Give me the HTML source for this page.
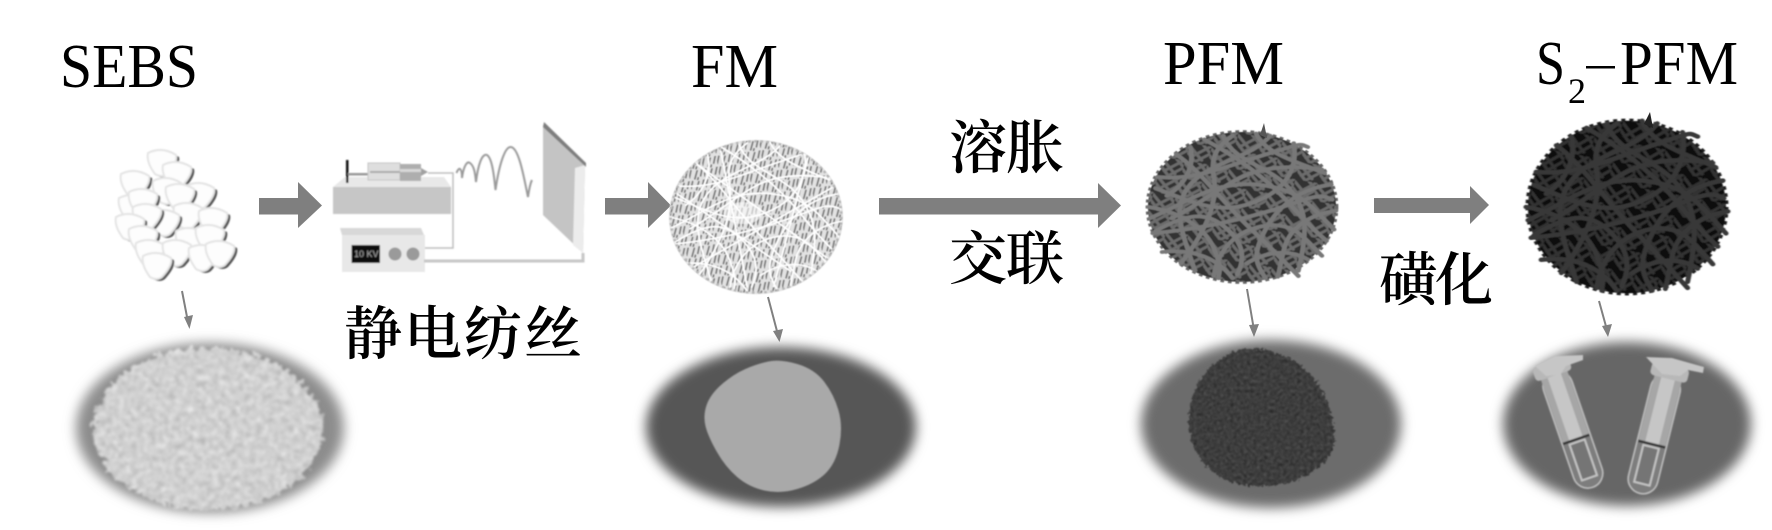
<!DOCTYPE html>
<html><head><meta charset="utf-8"><style>
html,body{margin:0;padding:0;background:#fff}
svg{display:block}
.l{font-family:"Liberation Serif",serif;fill:#000}
.c{font-family:"Liberation Serif","Noto Serif CJK SC",serif;font-size:58px;font-weight:600;fill:#000}
</style></head><body>
<svg width="1772" height="530" viewBox="0 0 1772 530" xmlns="http://www.w3.org/2000/svg">
<defs>
<filter id="b1" x="-5%" y="-5%" width="110%" height="110%"><feGaussianBlur stdDeviation="0.7"/></filter>
<filter id="b6" x="-15%" y="-15%" width="130%" height="130%"><feGaussianBlur stdDeviation="6"/></filter>
<filter id="powder" x="-10%" y="-10%" width="120%" height="120%" color-interpolation-filters="sRGB">
<feTurbulence type="fractalNoise" baseFrequency="0.16" numOctaves="3" seed="4" result="t"/>
<feDisplacementMap in="SourceGraphic" in2="t" scale="16" xChannelSelector="R" yChannelSelector="G" result="d"/>
<feColorMatrix in="t" type="matrix" values="0.4 0.4 0.2 0 0 0.4 0.4 0.2 0 0 0.4 0.4 0.2 0 0 0 0 0 0 1" result="g"/>
<feComposite in="d" in2="g" operator="arithmetic" k1="0" k2="1" k3="0.38" k4="-0.19" result="m"/>
<feComposite in="m" in2="d" operator="in" result="n"/>
<feGaussianBlur in="n" stdDeviation="1.3"/>
</filter>
<filter id="soft2" x="-15%" y="-15%" width="130%" height="130%" color-interpolation-filters="sRGB">
<feTurbulence type="fractalNoise" baseFrequency="0.7" numOctaves="2" seed="9" result="t"/>
<feColorMatrix in="t" type="matrix" values="0.4 0.4 0.2 0 0 0.4 0.4 0.2 0 0 0.4 0.4 0.2 0 0 0 0 0 0 1" result="g"/>
<feComposite in="SourceGraphic" in2="g" operator="arithmetic" k1="0" k2="1" k3="0.16" k4="-0.08" result="m"/>
<feComposite in="m" in2="SourceAlpha" operator="in" result="n"/>
<feGaussianBlur in="n" stdDeviation="6"/>
</filter>
<filter id="grain" x="-5%" y="-5%" width="110%" height="110%" color-interpolation-filters="sRGB">
<feTurbulence type="fractalNoise" baseFrequency="0.3" numOctaves="3" seed="2" result="t"/>
<feDisplacementMap in="SourceGraphic" in2="t" scale="7" xChannelSelector="R" yChannelSelector="G" result="d"/>
<feColorMatrix in="t" type="matrix" values="0.4 0.4 0.2 0 0 0.4 0.4 0.2 0 0 0.4 0.4 0.2 0 0 0 0 0 0 1" result="g"/>
<feComposite in="d" in2="g" operator="arithmetic" k1="0" k2="1" k3="0.3" k4="-0.15" result="m"/>
<feComposite in="m" in2="d" operator="in" result="n"/>
<feGaussianBlur in="n" stdDeviation="0.8"/>
</filter>
<pattern id="pd" width="24" height="24" patternUnits="userSpaceOnUse" patternTransform="rotate(12)">
<path d="M0,3L17,20M22,1L5,18M10,24L24,10M0,12L10,23M15,0L24,9" stroke="#303030" stroke-width="3.600" fill="none" stroke-linecap="round"/>
</pattern>
<pattern id="pm" width="24" height="24" patternUnits="userSpaceOnUse" patternTransform="rotate(12)">
<path d="M0,3L17,20M22,1L5,18M10,24L24,10M0,12L10,23M15,0L24,9" stroke="#6c6c6c" stroke-width="3.600" fill="none" stroke-linecap="round"/>
</pattern>
<pattern id="pf" width="17" height="14" patternUnits="userSpaceOnUse" patternTransform="rotate(-8)">
<path d="M3,1L0,10M10,2L6,12M16,0L13,9M9,14L10,11" stroke="#7c7c7c" stroke-width="2" fill="none" stroke-linecap="round"/>
</pattern>
<g id="fib" fill="none" stroke="currentColor" stroke-linecap="round">
<path d="M-98,15C-60,-5-30,-35 15,-30S70,-5 98,30"/>
<path d="M-95,35C-50,30-10,20 30,5S80,-20 96,-10"/>
<path d="M-70,-70C-45,-50-20,-5 10,30S50,80 60,92"/>
<path d="M-20,-95C-10,-60 30,-55 50,-25S70,30 60,85"/>
<path d="M30,-95C10,-65-35,-60-55,-30S-65,30-50,85"/>
<path d="M-90,-40C-50,-35-15,-55 25,-70S60,-85 70,-80"/>
<path d="M-30,92C-25,55-5,30 25,25S65,40 85,65"/>
<path d="M-85,60C-50,55-25,70-10,95"/>
<path d="M-65,75C-40,35-25,-5-30,-40S-20,-85-10,-95"/>
<path d="M95,-30C65,-25 40,-5 25,30S15,75 25,95"/>
<path d="M55,-85C60,-50 45,-20 10,-5S-50,-5-92,-25"/>
<path d="M-40,-90C-10,-70 25,-40 50,-5S85,40 90,45"/>
<path d="M-100,0C-70,5-40,25-30,55S-25,85-25,95"/>
<path d="M85,-50C55,-55 25,-55 0,-40S-50,0-75,15"/>
<path d="M100,5C70,10 50,30 45,55S40,85 38,93"/>
<path d="M-55,-80C-50,-55-60,-30-80,-15"/>
<path d="M-5,90C5,65 0,45-20,25S-60,10-92,32"/>
<path d="M70,70C50,55 25,60 5,75"/>
<path d="M15,-98C25,-70 60,-60 88,-45"/>
</g>
<path id="gr" d="M-14,-9Q0,-16 14,-7Q16,0 5,12Q0,16-7,12Q-16,0-14,-9Z"/>
<g id="grain1"><use href="#gr" x="3" y="2" fill="#555"/><use href="#gr" fill="#fdfdfd" stroke="#e4e4e4" stroke-width="2"/></g>
<clipPath id="cd"><circle r="98"/></clipPath>
<g id="tube">
<rect x="-15" y="0" width="30" height="122" rx="15" fill="#7d7d7d" stroke="#c0c0c0" stroke-width="1.500"/>
<rect x="-14" y="0" width="28" height="72" fill="#a6a6a6"/>
<rect x="-7" y="0" width="14" height="72" fill="#c6c6c6"/>
<rect x="-14" y="70" width="28" height="2.500" fill="#333"/>
<rect x="-8" y="74" width="16" height="38" fill="#747474" stroke="#c4c4c4" stroke-width="2"/>
<rect x="-19" y="-10" width="38" height="14" rx="4" fill="#b8b8b8"/>
</g>
</defs>
<rect width="1772" height="530" fill="#fff"/>

<!-- Titles -->
<text class="l" x="60" y="87" font-size="62" textLength="138" lengthAdjust="spacingAndGlyphs">SEBS</text>
<text class="l" x="691" y="87" font-size="62" textLength="87" lengthAdjust="spacingAndGlyphs">FM</text>
<text class="l" x="1163" y="84" font-size="62" textLength="121" lengthAdjust="spacingAndGlyphs">PFM</text>
<text class="l" x="1536" y="84" font-size="62" textLength="29" lengthAdjust="spacingAndGlyphs">S</text>
<text class="l" x="1568" y="103" font-size="36">2</text>
<rect x="1586" y="66" width="29" height="2.500" fill="#000"/>
<text class="l" x="1620" y="84" font-size="62" textLength="118" lengthAdjust="spacingAndGlyphs">PFM</text>

<!-- Grains -->
<g filter="url(#b1)">
<use href="#grain1" x="162" y="162"/><use href="#grain1" x="177" y="174"/><use href="#grain1" x="135" y="183"/>
<use href="#grain1" x="167" y="190"/><use href="#grain1" x="200" y="195"/><use href="#grain1" x="180" y="196"/>
<use href="#grain1" x="133" y="207"/><use href="#grain1" x="143" y="201"/><use href="#grain1" x="188" y="215"/>
<use href="#grain1" x="213" y="220"/><use href="#grain1" x="165" y="222"/><use href="#grain1" x="147" y="216"/>
<use href="#grain1" x="130" y="226"/><use href="#grain1" x="143" y="238"/><use href="#grain1" x="190" y="240"/>
<use href="#grain1" x="210" y="237"/><use href="#grain1" x="150" y="252"/><use href="#grain1" x="177" y="252"/>
<use href="#grain1" x="203" y="257"/><use href="#grain1" x="220" y="253"/><use href="#grain1" x="157" y="265"/>
</g>

<!-- Big arrows -->
<g fill="#7f7f7f">
<path d="M259,198H298V182L322,205.500L298,228V214.500H259Z"/>
<path d="M605,198H648V182L671,205.500L648,228V214.500H605Z"/>
<path d="M879,198H1098V183L1121,205.500L1098,228V214.500H879Z"/>
<path d="M1374,198H1470V186L1489,205L1470,224V213H1374Z"/>
</g>

<!-- Apparatus -->
<g filter="url(#b1)">
<path d="M333,187L345,177H444L451,187Z" fill="#e8e8e8"/>
<rect x="333" y="187" width="118" height="27" fill="#c6c6c6"/>
<rect x="346" y="160" width="2.500" height="23" fill="#111"/>
<rect x="348" y="173" width="22" height="2.500" fill="#999"/>
<rect x="368" y="163" width="32" height="17" fill="#dedede" stroke="#c4c4c4"/>
<rect x="370" y="171" width="30" height="2" fill="#aaa"/>
<rect x="400" y="164" width="21" height="17" fill="#aeaeae"/>
<rect x="400" y="169" width="21" height="3" fill="#d8d8d8"/>
<path d="M421,168L428,172L421,176Z" fill="#a0a0a0"/>
<path d="M428,173H453V248H424" fill="none" stroke="#bdbdbd" stroke-width="1.500"/>
<path d="M456.500,173C459,166 462,168 462,178C463,170 466,160 470,163C474,166 475,172 476,182C478,165 482,153 487,155C492,158 494,175 495.500,190C499,165 505,146 511,147C519,148 524,178 528,197C529,190 530,184 532,180" fill="none" stroke="#9a9a9a" stroke-width="2"/>
<path d="M543,125L585,165L583,253L543,215Z" fill="#c4c4c4"/>
<path d="M575,168L585,165L583,253L573,245Z" fill="#ececec"/>
<path d="M544,122L586,163V167L543,127Z" fill="#7e7e7e"/>
<path d="M340,228H421L424,235H342Z" fill="#d8d8d8"/>
<rect x="342" y="235" width="83" height="37" fill="#e8e8e8"/>
<rect x="351.500" y="245" width="28.500" height="18" fill="#0c0c0c"/>
<text x="354" y="257" font-family="Liberation Sans,sans-serif" font-size="9" fill="#aaa">10 KV</text>
<circle cx="395" cy="254" r="6.500" fill="#9a9a9a"/>
<circle cx="413" cy="254" r="6.500" fill="#9a9a9a"/>
<path d="M424,261H583V253" fill="none" stroke="#c6c6c6" stroke-width="3"/>
</g>
<text class="c" x="344" y="354" textLength="238" lengthAdjust="spacing">静电纺丝</text>

<!-- Labels -->
<text class="c" x="949" y="168" textLength="115" lengthAdjust="spacing">溶胀</text>
<text class="c" x="949" y="279" textLength="115" lengthAdjust="spacing">交联</text>
<text class="c" x="1379" y="300" textLength="114" lengthAdjust="spacing">磺化</text>

<!-- FM disc -->
<g transform="translate(756,217) scale(0.88,0.78)" filter="url(#b1)">
<circle r="99" fill="#e2e2e2"/>
<g clip-path="url(#cd)">
<circle r="98" fill="url(#pf)"/>
<g style="color:#fff" stroke-width="2"><use href="#fib"/></g>
<path d="M-90,-30L40,70M-70,-70L90,60M-40,-85L-10,90M60,-80L20,90M90,-40L-80,70" stroke="#fff" stroke-width="2" fill="none"/>
<ellipse cx="-15" cy="-5" rx="22" ry="14" fill="#fff" opacity=".6"/>
</g>
<circle r="97" fill="none" stroke="#b8b8b8" stroke-width="3" stroke-dasharray="3 4"/>
</g>

<!-- PFM disc -->
<g transform="translate(1242,207) scale(0.94,0.75)" filter="url(#b1)">
<circle r="100" fill="none" stroke="#666" stroke-width="5" stroke-dasharray="4 4"/>
<circle r="100" fill="#333"/>
<circle r="100" fill="url(#pm)"/>
<g style="color:#787878" stroke-width="5"><use href="#fib"/></g>
</g>
<path d="M1260,135L1264,123L1267,138Z" fill="#555"/>

<!-- S2-PFM disc -->
<g transform="translate(1627,207) scale(1.010,0.88)" filter="url(#b1)">
<circle r="98" fill="none" stroke="#1c1c1c" stroke-width="5" stroke-dasharray="4 4"/>
<circle r="98" fill="#0d0d0d"/>
<circle r="98" fill="url(#pd)"/>
<g style="color:#383838" stroke-width="5"><use href="#fib"/></g>
</g>
<path d="M1644,124L1650,112L1653,128Z" fill="#222"/>

<!-- Small arrows -->
<g stroke="#808080" stroke-width="2" fill="#808080">
<path d="M182,291L188,322" fill="none"/><path d="M184,317L193,315L189.500,329Z" stroke="none"/>
<path d="M768,297L778,335" fill="none"/><path d="M773,331L783,329L779.500,342Z" stroke="none"/>
<path d="M1247,289L1254,330" fill="none"/><path d="M1249,325L1259,324L1254,337Z" stroke="none"/>
<path d="M1599,301L1607,330" fill="none"/><path d="M1602,326L1612,324L1608,337Z" stroke="none"/>
</g>

<!-- Photo 1 -->
<ellipse cx="210" cy="428" rx="134" ry="85" fill="#8c8c8c" filter="url(#b6)"/>
<ellipse cx="208" cy="429" rx="115" ry="82" fill="#d0d0d0" filter="url(#powder)"/>

<!-- Photo 2 -->
<g filter="url(#soft2)"><ellipse cx="781" cy="427" rx="135" ry="80" fill="#565656"/></g>
<path d="M768.500,362.500Q780,360 797,365Q814,370 823.500,382.500Q833,395 837.500,410.500Q842,426 838.500,444.500Q835,463 824.500,473Q814,483 797,488Q780,493 764.500,489.500Q749,486 737.500,476Q726,466 717.500,451Q709,436 706.500,426Q704,416 707.500,405.500Q711,395 722.500,385Q734,375 745.500,370Q757,365 768.500,362.500Z" fill="#a9a9a9" stroke="#a9a9a9" stroke-width="2" filter="url(#b1)"/>

<!-- Photo 3 -->
<g filter="url(#soft2)"><ellipse cx="1271" cy="424" rx="130" ry="84" fill="#6c6c6c"/></g>
<g transform="translate(-6,0)"><path d="M1244.500,351.500Q1256,348 1277,353Q1298,358 1313.500,373.500Q1329,389 1335.500,414Q1342,439 1335.500,452.500Q1329,466 1308,476Q1287,486 1260,484.500Q1233,483 1218.500,469.500Q1204,456 1198.500,437.500Q1193,419 1199.500,398.500Q1206,378 1219.500,366.500Q1233,355 1244.500,351.500Z" fill="#3d3d3d" stroke="#3d3d3d" stroke-width="3" filter="url(#grain)"/></g>

<!-- Photo 4 -->
<g filter="url(#soft2)"><ellipse cx="1627" cy="424" rx="124" ry="82" fill="#666"/></g>
<g filter="url(#b1)">
<g transform="translate(1553,372) rotate(-19)"><use href="#tube"/></g>
<path d="M1535,366L1555,356L1583,355L1583,360L1566,366L1560,375L1546,376Z" fill="#c6c6c6"/>
<g transform="translate(1669,375) rotate(14)"><use href="#tube"/></g>
<path d="M1646,357L1672,358L1704,367L1703,373L1688,370L1680,376L1662,374Z" fill="#c6c6c6"/>
</g>
</svg>
</body></html>
